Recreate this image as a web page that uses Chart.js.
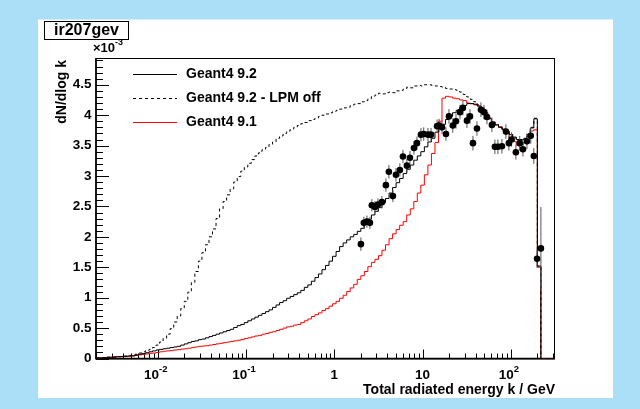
<!DOCTYPE html>
<html>
<head>
<meta charset="utf-8">
<script src="https://cdn.jsdelivr.net/npm/chart.js@4.4.0/dist/chart.umd.min.js"></script>
<style>
html, body { margin: 0; padding: 0; background: #abdff8; }
canvas { display: block; }
</style>
</head>
<body>
<canvas id="chart" width="640" height="409"></canvas>
<script>
// binning of the simulated spectra: 25 bins per decade in log10(k / GeV)
const logKMin = -2.7;
const logKMax = 2.5;
const nBins = 130;
const yMax = 4.94; // axis top, in units of 1e-3

// dN/dlog k per bin, in units of 1e-3
const g4_92 = [
  0.01, 0.01, 0.015, 0.02, 0.02, 0.025, 0.03, 0.03, 0.035, 0.04,
  0.045, 0.055, 0.07, 0.08, 0.095, 0.11, 0.125, 0.14, 0.15, 0.16,
  0.17, 0.18, 0.19, 0.20, 0.22, 0.24, 0.26, 0.28, 0.29, 0.31,
  0.32, 0.34, 0.36, 0.38, 0.40, 0.42, 0.44, 0.46, 0.48, 0.51,
  0.54, 0.56, 0.59, 0.62, 0.65, 0.68, 0.71, 0.74, 0.77, 0.80,
  0.84, 0.88, 0.92, 0.95, 0.99, 1.02, 1.05, 1.08, 1.12, 1.17,
  1.21, 1.27, 1.33, 1.39, 1.46, 1.53, 1.60, 1.68, 1.76, 1.84,
  1.90, 1.95, 2.00, 2.04, 2.09, 2.14, 2.22, 2.29, 2.36, 2.42,
  2.48, 2.56, 2.63, 2.72, 2.81, 2.89, 2.96, 3.04, 3.11, 3.18,
  3.26, 3.33, 3.40, 3.48, 3.56, 3.62, 3.72, 3.78, 3.85, 3.93,
  3.98, 4.04, 4.08, 4.13, 4.16, 4.19, 4.19, 4.18, 4.15, 4.09,
  4.02, 3.95, 3.89, 3.84, 3.80, 3.77, 3.74, 3.68, 3.64, 3.60,
  3.59, 3.61, 3.66, 3.79, 3.94, 1.52, 0, 0, 0, 0
];

const g4_92_noLPM = [
  0.01, 0.01, 0.015, 0.02, 0.02, 0.025, 0.03, 0.035, 0.04, 0.05,
  0.06, 0.07, 0.09, 0.11, 0.13, 0.15, 0.18, 0.22, 0.27, 0.33,
  0.40, 0.49, 0.60, 0.70, 0.82, 0.94, 1.09, 1.25, 1.43, 1.60,
  1.74, 1.87, 2.00, 2.13, 2.30, 2.46, 2.58, 2.69, 2.79, 2.90,
  2.99, 3.08, 3.15, 3.21, 3.27, 3.33, 3.38, 3.43, 3.47, 3.52,
  3.56, 3.62, 3.66, 3.70, 3.74, 3.77, 3.80, 3.83, 3.86, 3.88,
  3.91, 3.93, 3.95, 3.98, 4.00, 4.02, 4.04, 4.06, 4.08, 4.10,
  4.12, 4.13, 4.16, 4.18, 4.19, 4.22, 4.24, 4.27, 4.31, 4.33,
  4.36, 4.35, 4.37, 4.38, 4.37, 4.40, 4.41, 4.43, 4.46, 4.45,
  4.48, 4.49, 4.48, 4.50, 4.50, 4.49, 4.48, 4.47, 4.46, 4.44,
  4.43, 4.42, 4.41, 4.38, 4.34, 4.30, 4.26, 4.22, 4.17, 4.11,
  4.04, 3.96, 3.90, 3.85, 3.81, 3.77, 3.74, 3.69, 3.64, 3.61,
  3.60, 3.62, 3.68, 3.80, 3.95, 1.52, 0, 0, 0, 0
];

const g4_91 = [
  0.01, 0.01, 0.015, 0.02, 0.02, 0.025, 0.03, 0.03, 0.035, 0.04,
  0.04, 0.05, 0.06, 0.065, 0.075, 0.085, 0.09, 0.10, 0.11, 0.12,
  0.125, 0.13, 0.14, 0.145, 0.155, 0.16, 0.17, 0.18, 0.19, 0.20,
  0.205, 0.21, 0.22, 0.23, 0.24, 0.25, 0.26, 0.27, 0.28, 0.29,
  0.30, 0.31, 0.33, 0.34, 0.355, 0.37, 0.38, 0.40, 0.41, 0.43,
  0.44, 0.46, 0.48, 0.50, 0.52, 0.53, 0.55, 0.56, 0.59, 0.62,
  0.65, 0.69, 0.72, 0.75, 0.79, 0.82, 0.86, 0.90, 0.94, 0.99,
  1.04, 1.10, 1.16, 1.22, 1.30, 1.36, 1.43, 1.51, 1.58, 1.63,
  1.69, 1.78, 1.87, 1.97, 2.05, 2.12, 2.19, 2.25, 2.36, 2.46,
  2.58, 2.72, 2.85, 3.02, 3.18, 3.37, 3.55, 3.90, 4.28, 4.31,
  4.30, 4.28, 4.27, 4.25, 4.24, 4.20, 4.19, 4.17, 4.15, 4.12,
  4.02, 3.94, 3.88, 3.84, 3.81, 3.76, 3.70, 3.63, 3.57, 3.51,
  3.51, 3.55, 3.65, 3.74, 3.76, 1.50, 0, 0, 0, 0
];

// measured points: k in GeV, dN/dlog k in 1e-3, error in 1e-3
const dataK = [
  2.00, 2.16, 2.34, 2.53, 2.66, 2.88, 3.12, 3.46, 3.84, 4.15,
  4.61, 4.99, 5.53, 5.99, 6.64, 7.19, 7.98, 8.63, 9.58, 10.3,
  11.5, 12.45, 14.6, 15.4, 16.6, 18.4, 19.9, 22.0, 23.9, 26.5,
  28.6, 31.8, 34.4, 37.2, 41.3, 45.8, 49.6, 53.6, 61.0, 65.9,
  71.3, 79.2, 87.9, 95, 102, 114, 126, 137, 152, 168,
  182, 198, 219
];
const dataY = [
  1.88, 2.23, 2.25, 2.23, 2.52, 2.49, 2.53, 2.57, 2.85, 3.07,
  2.67, 3.02, 3.10, 3.32, 3.17, 3.30, 3.46, 3.54, 3.68, 3.69,
  3.68, 3.68, 3.82, 3.83, 3.80, 3.69, 3.98, 3.83, 3.90, 4.05,
  4.12, 3.91, 3.98, 3.54, 3.78, 4.09, 4.05, 3.97, 3.84, 3.48,
  3.48, 3.49, 3.73, 3.54, 3.60, 3.39, 3.54, 3.44, 3.57, 3.66,
  3.33, 1.64, 1.81
];
const dataErr = [
  0.11, 0.10, 0.10, 0.10, 0.10, 0.10, 0.10, 0.10, 0.11, 0.11,
  0.10, 0.11, 0.11, 0.11, 0.11, 0.11, 0.11, 0.11, 0.11, 0.11,
  0.11, 0.11, 0.11, 0.11, 0.11, 0.11, 0.12, 0.12, 0.12, 0.12,
  0.12, 0.12, 0.12, 0.12, 0.12, 0.12, 0.12, 0.12, 0.12, 0.12,
  0.12, 0.12, 0.12, 0.12, 0.12, 0.12, 0.12, 0.12, 0.13, 0.13,
  0.13, 0.15, 0.68
];

const yTicks = [0, 0.5, 1, 1.5, 2, 2.5, 3, 3.5, 4, 4.5];
const yTickLabels = ['0', '0.5', '1', '1.5', '2', '2.5', '3', '3.5', '4', '4.5'];
const xTicks = [0.01, 0.1, 1, 10, 100];
const xTickLabels = [['10', '-2'], ['10', '-1'], ['1', ''], ['10', ''], ['10', '2']];

const FONT = '"Liberation Sans", Arial, Helvetica, sans-serif';
function bold(size) { return 'bold ' + size + 'px ' + FONT; }

function histPoints(vals) {
  const w = (logKMax - logKMin) / nBins;
  const pts = vals.map((v, i) => ({ x: Math.pow(10, logKMin + i * w), y: v }));
  pts.push({ x: Math.pow(10, logKMax), y: vals[vals.length - 1] });
  return pts;
}

const rootStyle = {
  id: 'rootStyle',
  beforeDraw(chart) {
    const ctx = chart.ctx;
    ctx.save();
    ctx.fillStyle = '#abdff8';
    ctx.fillRect(0, 0, chart.width, chart.height);
    ctx.fillStyle = '#ffffff';
    ctx.fillRect(38, 19.5, 575, 378.5);
    ctx.restore();
  },
  beforeDatasetsDraw(chart) {
    const ctx = chart.ctx;
    const a = chart.chartArea;
    const xs = chart.scales.x, ys = chart.scales.y;
    ctx.save();
    ctx.strokeStyle = '#000';
    // frame
    ctx.lineWidth = 1;
    ctx.strokeRect(a.left, a.top + 0.5, a.right - a.left - 0.5, a.bottom - a.top);
    // axes
    ctx.lineWidth = 1.6;
    ctx.beginPath();
    ctx.moveTo(a.left, a.top);
    ctx.lineTo(a.left, a.bottom);
    ctx.lineTo(a.right, a.bottom);
    ctx.stroke();
    // y ticks, inward
    ctx.lineWidth = 1;
    ctx.beginPath();
    for (let i = 0; i <= 49; i++) {
      const v = i / 10;
      if (v > yMax) break;
      const y = Math.round(ys.getPixelForValue(v)) + 0.5;
      const len = i % 5 === 0 ? 13 : 7;
      ctx.moveTo(a.left, y);
      ctx.lineTo(a.left + len, y);
    }
    // x ticks, inward
    for (let d = -3; d <= 2; d++) {
      for (let m = 1; m <= 9; m++) {
        const v = m * Math.pow(10, d);
        if (v < xs.min || v > xs.max) continue;
        const x = Math.round(xs.getPixelForValue(v)) + 0.5;
        const len = m === 1 ? 9 : 5;
        ctx.moveTo(x, a.bottom);
        ctx.lineTo(x, a.bottom - len);
      }
    }
    ctx.stroke();
    ctx.restore();
  },
  beforeDatasetDraw(chart, args) {
    if (args.index !== 0) return;
    const ctx = chart.ctx;
    const a = chart.chartArea;
    const xs = chart.scales.x, ys = chart.scales.y;
    ctx.save();
    ctx.beginPath();
    ctx.rect(a.left, a.top, a.right - a.left, a.bottom - a.top);
    ctx.clip();
    ctx.strokeStyle = '#555';
    ctx.lineWidth = 1;
    ctx.beginPath();
    dataK.forEach((k, i) => {
      const x = xs.getPixelForValue(k);
      ctx.moveTo(x, ys.getPixelForValue(dataY[i] - dataErr[i]));
      ctx.lineTo(x, ys.getPixelForValue(dataY[i] + dataErr[i]));
    });
    ctx.stroke();
    ctx.restore();
  },
  afterDraw(chart) {
    const ctx = chart.ctx;
    const a = chart.chartArea;
    const xs = chart.scales.x, ys = chart.scales.y;
    ctx.save();
    ctx.fillStyle = '#000';

    // y tick labels
    ctx.font = bold(13.5);
    ctx.textAlign = 'right';
    ctx.textBaseline = 'middle';
    yTicks.forEach((v, i) => {
      ctx.fillText(yTickLabels[i], a.left - 4.5, ys.getPixelForValue(v));
    });

    // x tick labels with exponents
    ctx.textAlign = 'left';
    xTicks.forEach((v, i) => {
      const [base, sup] = xTickLabels[i];
      const x = xs.getPixelForValue(v);
      ctx.font = bold(13.5);
      const w1 = ctx.measureText(base).width;
      ctx.font = bold(9.5);
      const w2 = sup ? ctx.measureText(sup).width : 0;
      const x0 = x - (w1 + w2) / 2 - (sup ? 2 : 0);
      ctx.font = bold(13.5);
      ctx.fillText(base, x0, a.bottom + 16.5);
      if (sup) {
        ctx.font = bold(9.5);
        ctx.fillText(sup, x0 + w1, a.bottom + 10.5);
      }
    });

    // exponent of the y axis
    ctx.font = bold(13);
    ctx.fillText('\u00d710', a.left - 3, a.top - 10);
    const wx = ctx.measureText('\u00d710').width;
    ctx.font = bold(9);
    ctx.fillText('-3', a.left - 3 + wx, a.top - 15);

    // axis titles
    ctx.font = bold(14);
    ctx.textAlign = 'right';
    ctx.textBaseline = 'alphabetic';
    ctx.fillText('Total radiated energy k / GeV', a.right, a.bottom + 35);
    ctx.save();
    ctx.translate(62, a.top + 2);
    ctx.rotate(-Math.PI / 2);
    ctx.textBaseline = 'middle';
    ctx.fillText('dN/dlog k', 0, 0);
    ctx.restore();

    // legend, taken from the histogram datasets
    ctx.textAlign = 'left';
    ctx.textBaseline = 'middle';
    ctx.font = bold(14);
    chart.data.datasets.slice(1).forEach((ds, i) => {
      const y = 74 + i * 24;
      ctx.save();
      ctx.strokeStyle = ds.borderColor;
      ctx.lineWidth = ds.borderWidth;
      ctx.setLineDash(ds.borderDash || []);
      ctx.beginPath();
      ctx.moveTo(133, y + 0.5);
      ctx.lineTo(177, y + 0.5);
      ctx.stroke();
      ctx.restore();
      ctx.fillText(ds.label, 186, y);
    });

    // title box
    ctx.fillStyle = '#fff';
    ctx.fillRect(44.5, 21.5, 84, 18);
    ctx.strokeStyle = '#000';
    ctx.lineWidth = 1;
    ctx.strokeRect(44.5, 21.5, 84, 18);
    ctx.fillStyle = '#000';
    ctx.font = bold(16);
    ctx.textAlign = 'center';
    ctx.fillText('ir207gev', 86.5, 31);
    ctx.restore();
  }
};

const ctx = document.getElementById('chart').getContext('2d');
new Chart(ctx, {
  type: 'line',
  data: {
    datasets: [{
      label: 'data',
      data: dataK.map((k, i) => ({ x: k, y: dataY[i] })),
      showLine: false,
      pointRadius: 3.3,
      pointBackgroundColor: '#000',
      pointBorderWidth: 0,
      pointStyle: 'circle'
    }, {
      label: 'Geant4 9.2',
      data: histPoints(g4_92),
      borderColor: '#000000',
      borderWidth: 1,
      stepped: 'before',
      pointRadius: 0,
      fill: false
    }, {
      label: 'Geant4 9.2 - LPM off',
      data: histPoints(g4_92_noLPM),
      borderColor: '#000000',
      borderWidth: 1,
      borderDash: [3, 3],
      stepped: 'before',
      pointRadius: 0,
      fill: false
    }, {
      label: 'Geant4 9.1',
      data: histPoints(g4_91),
      borderColor: '#ff0000',
      borderWidth: 1,
      stepped: 'before',
      pointRadius: 0,
      fill: false
    }]
  },
  options: {
    responsive: false,
    animation: false,
    devicePixelRatio: 1,
    events: [],
    layout: { padding: { left: 96, right: 85, top: 58, bottom: 50.5 } },
    scales: {
      x: { type: 'logarithmic', min: Math.pow(10, logKMin), max: Math.pow(10, logKMax), display: false },
      y: { type: 'linear', min: 0, max: yMax, display: false }
    },
    plugins: {
      legend: { display: false },
      tooltip: { enabled: false }
    }
  },
  plugins: [rootStyle]
});
</script>
</body>
</html>
